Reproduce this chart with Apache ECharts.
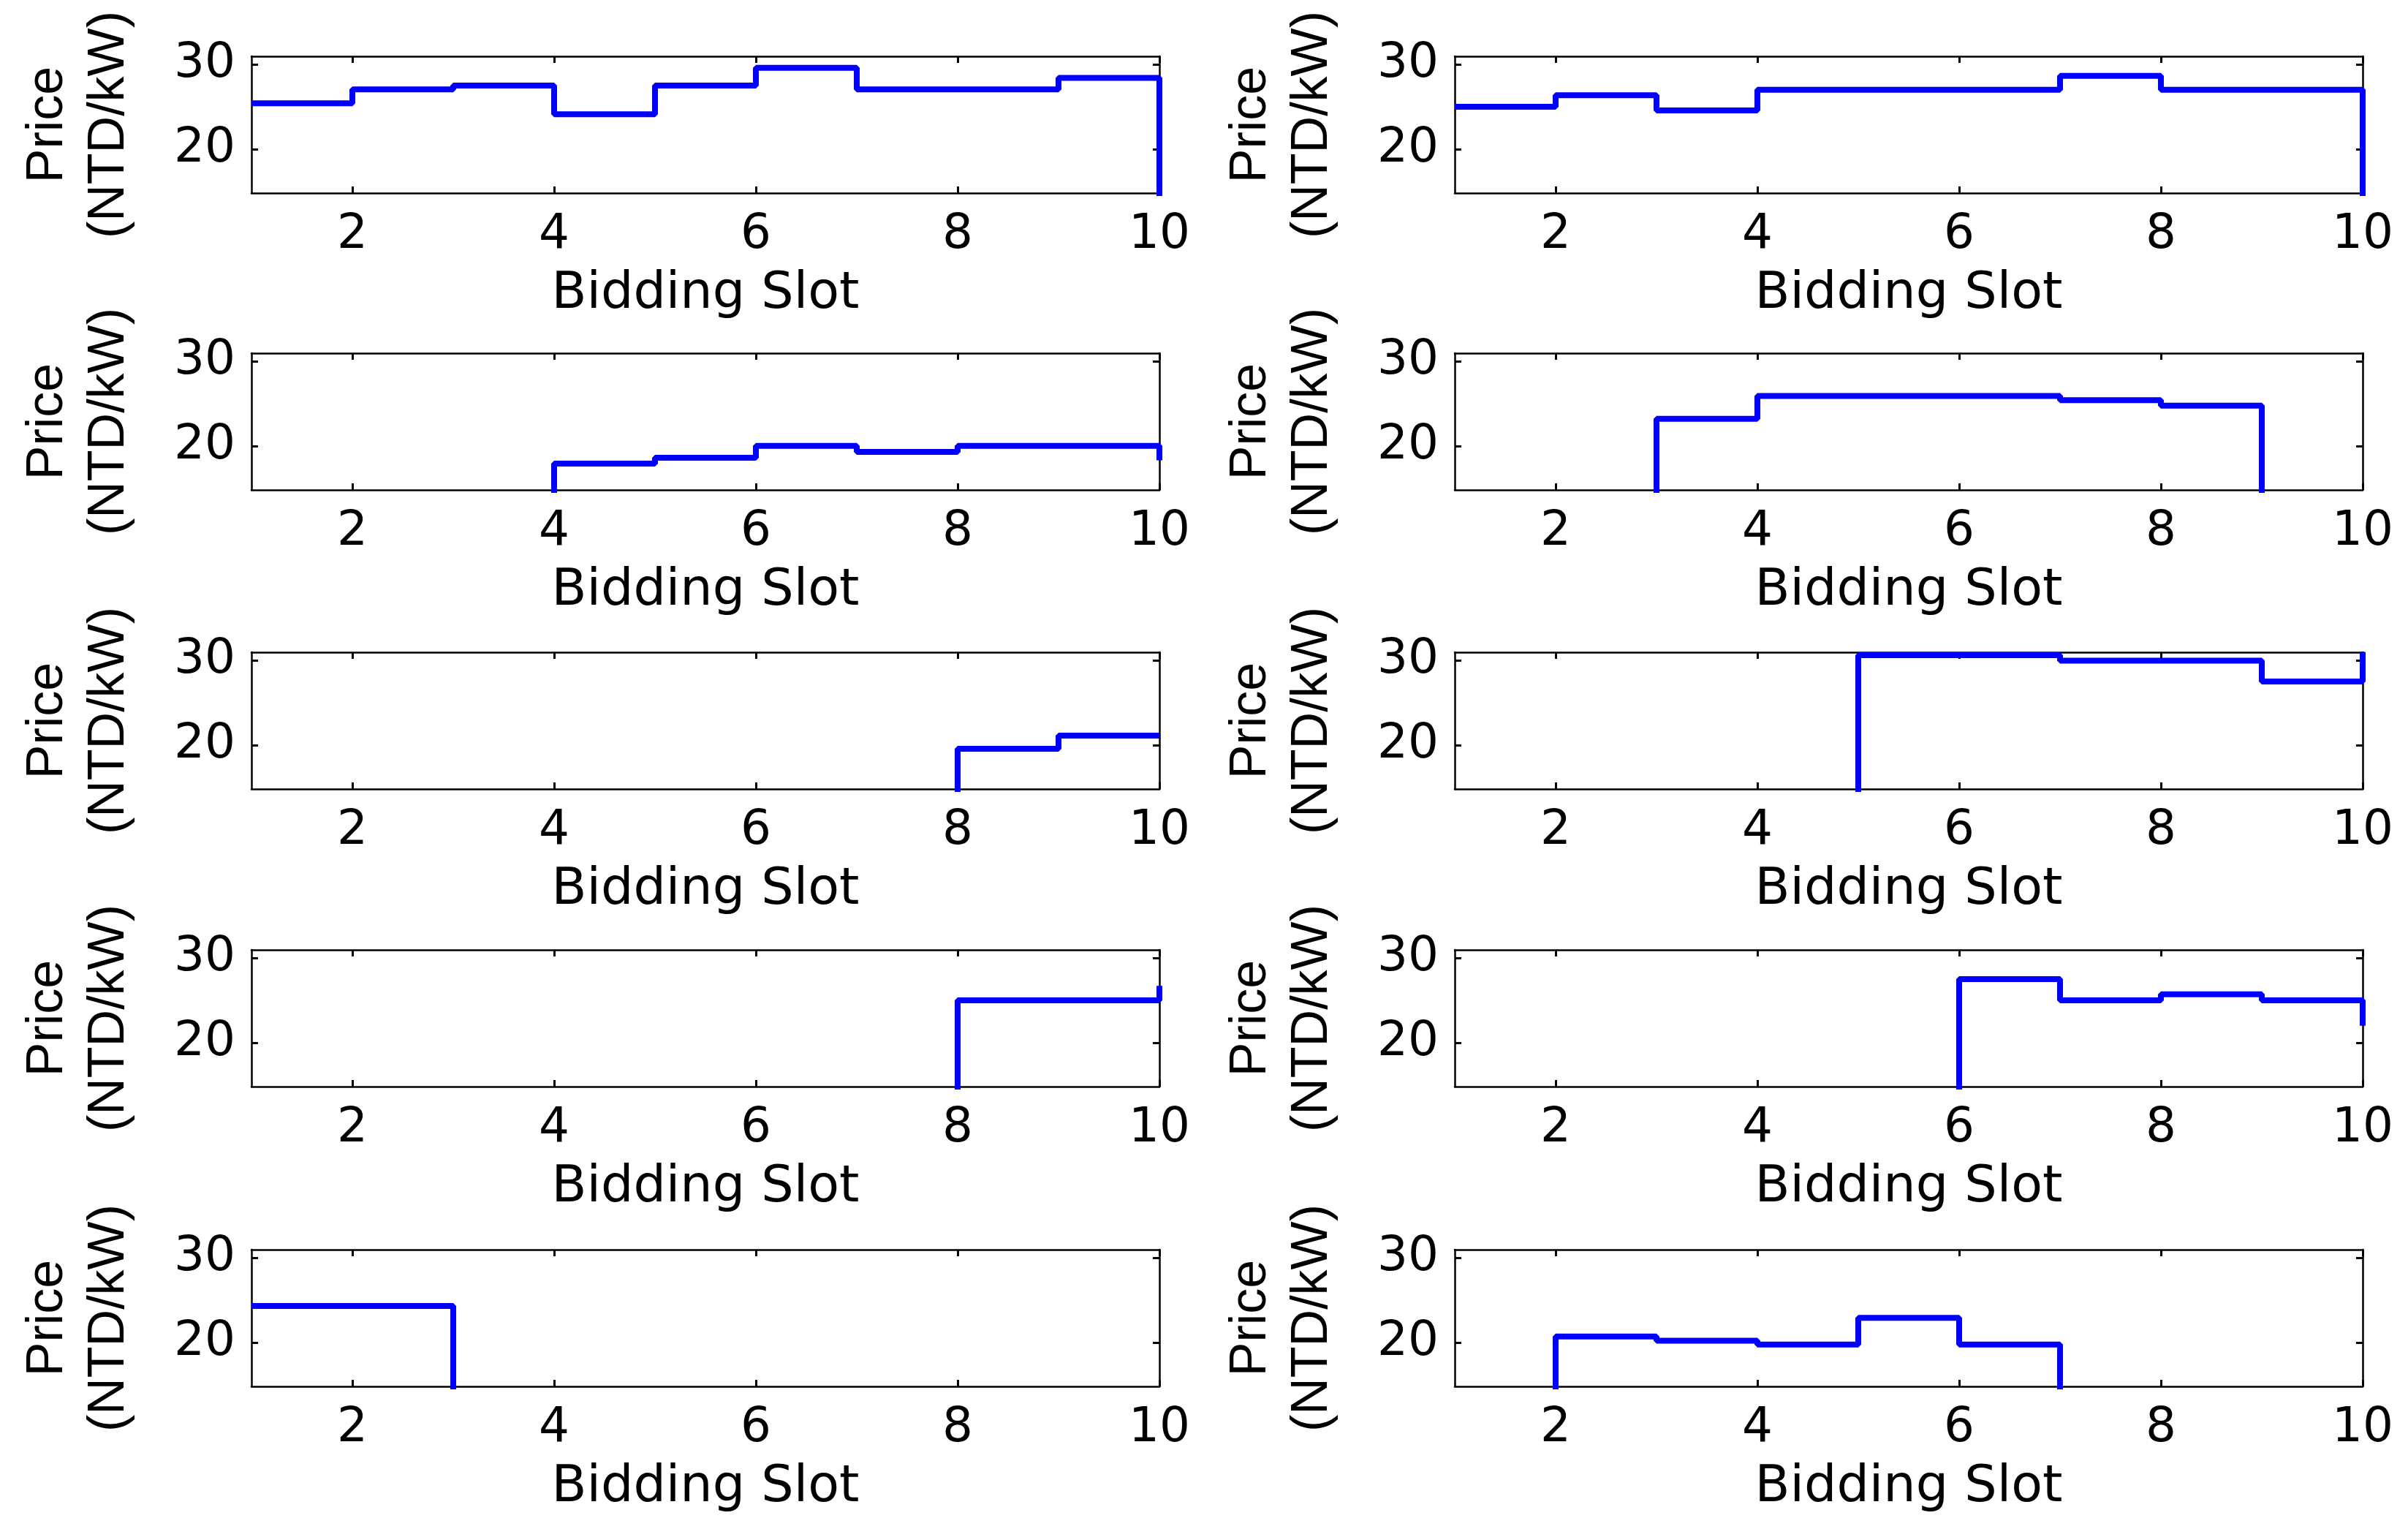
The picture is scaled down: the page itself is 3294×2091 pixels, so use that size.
<!DOCTYPE html>
<html>
<head>
<meta charset="utf-8">
<script src="https://cdn.jsdelivr.net/npm/echarts@6/dist/echarts.min.js"></script>
<style>
html,body{margin:0;padding:0;background:#fff;}
#chart{width:3294px;height:2091px;}
</style>
</head>
<body>
<div id="chart"></div>
<script>
// ---- data ----
const slots = [1, 2, 3, 4, 5, 6, 7, 8, 9, 10];
const xTicks = [2, 4, 6, 8, 10];
const yTicks = [20, 30];
const xAxisTitle = 'Bidding Slot';
const yAxisTitle = 'Price\n(NTD/kW)';

const price1  = [25.4, 27.05, 27.5, 24.1, 27.5, 29.6, 27.05, 27.05, 28.4, 0];
const price2  = [25.0, 26.35, 24.55, 27.0, 27.0, 27.0, 28.65, 27.0, 27.0, 0];
const price3  = [0, 0, 0, 17.9, 18.6, 20.0, 19.3, 20.0, 20.0, 18.3];
const price4  = [0, 0, 23.2, 25.9, 25.9, 25.9, 25.4, 24.75, 0, 0];
const price5  = [0, 0, 0, 0, 0, 0, 0, 19.55, 21.1, 21.1];
const price6  = [0, 0, 0, 0, 30.6, 30.6, 29.95, 29.95, 27.5, 31];
const price7  = [0, 0, 0, 0, 0, 0, 0, 25.0, 25.0, 26.7];
const price8  = [0, 0, 0, 0, 0, 27.5, 25.0, 25.7, 25.0, 22.0];
const price9  = [24.3, 24.3, 0, 0, 0, 0, 0, 0, 0, 0];
const price10 = [0, 20.7, 20.2, 19.75, 22.9, 19.75, 0, 0, 0, 0];

const panels = [price1, price2, price3, price4, price5, price6, price7, price8, price9, price10];

// ---- layout ----
const colLeft = [344, 1990];
const rowTop = [77, 483, 892, 1299, 1709];
const plotW = 1242, plotH = 187;
const yMin = 14.8, yMax = 30.95;

const grids = [], xAxes = [], yAxes = [], series = [];
const lineBlack = { color: '#000', width: 2.5 };
const tickStyle = { color: '#000', width: 3 };

panels.forEach((vals, k) => {
  const row = Math.floor(k / 2), col = k % 2;
  grids.push({ left: colLeft[col], top: rowTop[row], width: plotW, height: plotH, containLabel: false });
  xAxes.push({
    type: 'value', gridIndex: k, min: 1, max: 10, position: 'bottom',
    axisLine: { show: true, onZero: false, lineStyle: lineBlack },
    axisTick: { show: true, inside: true, length: 9, customValues: xTicks, lineStyle: tickStyle },
    axisLabel: { show: true, customValues: xTicks, fontSize: 66, fontFamily: 'DejaVu Sans', color: '#000', margin: 25 },
    splitLine: { show: false },
    name: xAxisTitle, nameLocation: 'middle', nameGap: 104,
    nameTextStyle: { fontSize: 70, fontFamily: 'DejaVu Sans', color: '#000' }
  });
  xAxes.push({
    type: 'value', gridIndex: k, min: 1, max: 10, position: 'top',
    axisLine: { show: true, onZero: false, lineStyle: lineBlack },
    axisTick: { show: true, inside: true, length: 9, customValues: xTicks, lineStyle: tickStyle },
    axisLabel: { show: false },
    splitLine: { show: false }
  });
  yAxes.push({
    type: 'value', gridIndex: k, min: yMin, max: yMax, position: 'left',
    axisLine: { show: true, onZero: false, lineStyle: lineBlack },
    axisTick: { show: true, inside: true, length: 9, customValues: yTicks, lineStyle: tickStyle },
    axisLabel: { show: true, customValues: yTicks, fontSize: 66, fontFamily: 'DejaVu Sans', color: '#000', margin: 22 },
    splitLine: { show: false },
    name: yAxisTitle, nameLocation: 'middle', nameRotate: 90, nameGap: 152,
    nameTextStyle: { fontSize: 70, fontFamily: 'Liberation Sans', color: '#000', lineHeight: 84, align: 'center' }
  });
  yAxes.push({
    type: 'value', gridIndex: k, min: yMin, max: yMax, position: 'right',
    axisLine: { show: true, onZero: false, lineStyle: lineBlack },
    axisTick: { show: true, inside: true, length: 9, customValues: yTicks, lineStyle: tickStyle },
    axisLabel: { show: false },
    splitLine: { show: false }
  });
  series.push({
    type: 'line', xAxisIndex: 2 * k, yAxisIndex: 2 * k, step: 'end',
    data: slots.map((s, i) => [s, vals[i]]),
    symbol: 'none', showSymbol: false, clip: true,
    lineStyle: { color: '#0000ff', width: 8 }
  });
});

const chart = echarts.init(document.getElementById('chart'), null, { renderer: 'canvas' });
chart.setOption({
  backgroundColor: '#ffffff',
  animation: false,
  grid: grids,
  xAxis: xAxes,
  yAxis: yAxes,
  series: series
});
</script>
</body>
</html>
